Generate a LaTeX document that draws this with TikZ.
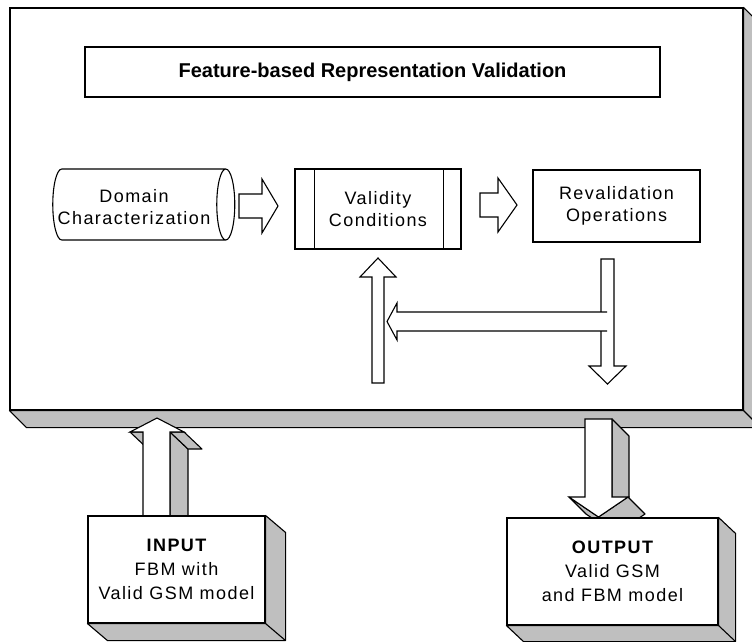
\documentclass[tikz,border=0pt]{standalone}
\usepackage{fontspec}
\setmainfont{Liberation Sans}
\newfontfamily\spaced[LetterSpace=8]{Liberation Sans}
\usetikzlibrary{shapes.geometric}
\pgfdeclarelayer{back}
\pgfsetlayers{back,main}

\tikzset{
  box/.style={draw, line width=1.1pt, fill=white, inner sep=0pt, align=center,
    font=\spaced\fontsize{18}{22}\selectfont},
  drum/.style={box, shape=cylinder, shape aspect=0.5},
  facegray/.style={draw, line width=1.1pt, fill=black!25, line join=round},
  hollow/.style={draw, line width=1.1pt, fill=white},
}

\begin{document}
\begin{tikzpicture}[x=1pt,y=-1pt]
  \useasboundingbox (0,0) rectangle (752,641);
  \clip (0,0) rectangle (752,641);

  % main frame and its band
  \node[box, minimum width=733pt, minimum height=402pt] (frame) at (376.5,209) {};
  \begin{pgfonlayer}{back}
    \draw[facegray] (frame.north east) -- ++(17,17) |- ([shift={(17,17)}]frame.south west)
      -- (frame.south west) -- (frame.south east) -- cycle;
    \draw[line width=1.1pt] (frame.south east) -- ++(17,17);
  \end{pgfonlayer}

  \node[box, font=\bfseries\fontsize{20}{24}\selectfont, minimum width=575pt,
    minimum height=50pt] (title) at (372.5,72) {Feature-based Representation Validation};

  % the three steps
  \node[drum, minimum width=71pt, minimum height=182pt] (domain) at (139,204.5)
    {\rule{0pt}{36pt}};
  \node[align=center, inner sep=0pt, font=\spaced\fontsize{18}{22}\selectfont]
    (domainlbl) at ([xshift=-5pt,yshift=-3pt]domain.center) {Domain\\Characterization};
  \node[box, minimum width=166pt, minimum height=80pt] (valid) at (378,209)
    {Validity\\Conditions};
  \draw[line width=1.1pt] ([xshift=20pt]valid.north west) -- ([xshift=20pt]valid.south west)
    ([xshift=-18pt]valid.north east) -- ([xshift=-18pt]valid.south east);
  \node[box, minimum width=167pt, minimum height=72pt] (reval) at (616.5,206)
    {Revalidation\\Operations};

  % hollow arrows
  \draw[hollow] (239,194) -- (262,194) -- (262,179) -- (278,206) -- (262,233)
    -- (262,218) -- (239,218) -- cycle;
  \draw[hollow] (480,193) -- (498,193) -- (498,178) -- (517,205) -- (498,232)
    -- (498,217) -- (480,217) -- cycle;
  \draw[hollow] (372,383) -- (372,277) -- (360,277) -- (378,258) -- (396,277)
    -- (384,277) -- (384,383) -- cycle;
  \draw[hollow] (601,259) -- (614,259) -- (614,366) -- (626,366) -- (607.5,384)
    -- (589,366) -- (601,366) -- cycle;
  \fill[white] (607,312) -- (397,312) -- (397,303) -- (387,321.5) -- (397,340)
    -- (397,331) -- (607,331) -- cycle;
  \draw[line width=1.1pt] (607,312) -- (397,312) -- (397,303) -- (387,321.5)
    -- (397,340) -- (397,331) -- (607,331);

  % input / output
  \node[box, font=\spaced\fontsize{18}{24}\selectfont, minimum width=177pt,
    minimum height=107pt] (input) at (176.5,569.5)
    {{\bfseries INPUT}\\FBM with\\Valid GSM model};
  \node[box, font=\spaced\fontsize{18}{24}\selectfont, minimum width=211pt,
    minimum height=107pt] (output) at (612.5,571.5)
    {{\bfseries OUTPUT}\\Valid GSM\\and FBM model};

  \begin{pgfonlayer}{back}
    % up arrow into the frame
    \draw[facegray] (170,432) -- (188,449) -- (188,516) -- (170,516) -- cycle;
    \draw[facegray] (170,432) -- (184,432) -- (202,449) -- (188,449) -- cycle;
    \draw[facegray] (130,432) -- (143,432) -- (161,449) -- (148,449) -- cycle;
    \draw[hollow] (157,418) -- (184,432) -- (170,432) -- (170,516) -- (143,516)
      -- (143,432) -- (130,432) -- cycle;
    % down arrow out of the frame
    \draw[facegray] (612,419) -- (629,436) -- (629,514) -- (612,497) -- cycle;
    \draw[facegray] (628,497) -- (598.5,517) -- (615.5,534) -- (645,514) -- cycle;
    \draw[facegray] (569,497) -- (598.5,517) -- (615.5,534) -- (586,514) -- cycle;
    \draw[hollow] (585,419) -- (612,419) -- (612,497) -- (628,497) -- (598.5,517)
      -- (569,497) -- (585,497) -- cycle;
    % bands of the two boxes
    \draw[facegray] (input.north east) -- ++(20,17) |- ([shift={(20,17)}]input.south west)
      -- (input.south west) -- (input.south east) -- cycle;
    \draw[line width=1.1pt] (input.south east) -- ++(20,17);
    \draw[facegray] (output.north east) -- ++(17,16) |- ([shift={(17,16)}]output.south west)
      -- (output.south west) -- (output.south east) -- cycle;
    \draw[line width=1.1pt] (output.south east) -- ++(17,16);
  \end{pgfonlayer}
\end{tikzpicture}
\end{document}
